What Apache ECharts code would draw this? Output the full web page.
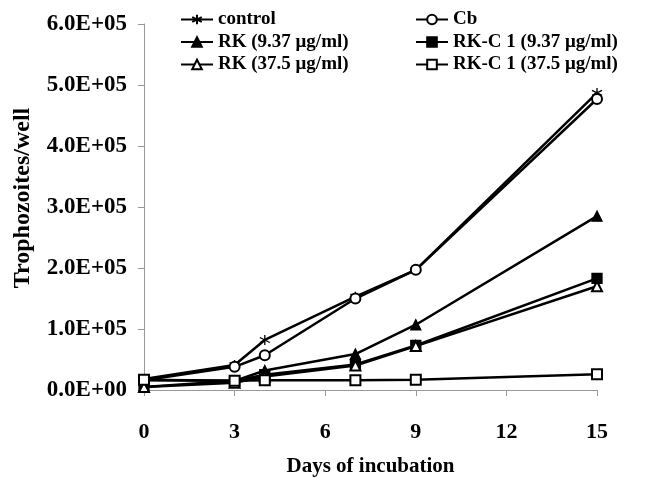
<!DOCTYPE html>
<html>
<head>
<meta charset="utf-8">
<script src="https://cdn.jsdelivr.net/npm/echarts@6/dist/echarts.min.js"></script>
<style>
  html, body { margin: 0; padding: 0; background: #fff; }
  #main { width: 654px; height: 478px; }
</style>
</head>
<body>
<div id="main"></div>
<script>
  // 培养天数
  var days = [0, 3, 4, 7, 9, 15];
  // 各组数据 (trophozoites/well)
  var control = [18000, 41000, 82000, 153000, 197000, 487000];
  var cb = [16000, 38000, 57000, 150000, 197000, 477000];
  var rk937 = [16000, 15000, 32000, 59000, 107000, 285000];
  var rkc937 = [5000, 15000, 25000, 42000, 73000, 183000];
  var rk375 = [5000, 12000, 22000, 40000, 72000, 170000];
  var rkc375 = [17000, 15000, 16000, 16000, 17000, 26000];
  var xTicks = [0, 3, 6, 9, 12, 15];

  var font = '"Liberation Serif", "Times New Roman", serif';
  var asterisk = 'path://M0,-10L0,10M-8.7,-5L8.7,5M-8.7,5L8.7,-5';

  function pairs(arr) {
    return days.map(function (d, i) { return [d, arr[i]]; });
  }

  function mk(name, arr, symbol) {
    return {
      name: name,
      type: 'line',
      data: pairs(arr),
      symbol: symbol,
      symbolSize: 10,
      showAllSymbol: true,
      lineStyle: { color: '#000', width: 2.5 },
      itemStyle: { color: '#000', borderColor: '#000', borderWidth: 1.3 },
      emphasis: { disabled: true },
      animation: false
    };
  }

  var legendText = { fontFamily: font, fontWeight: 'bold', fontSize: 19, color: '#000' };

  var myChart = echarts.init(document.getElementById('main'));
  var option = {
    backgroundColor: '#fff',
    grid: { left: 144, right: 57, top: 24, bottom: 88, containLabel: false, outerBoundsMode: 'none' },
    legend: [{
      orient: 'vertical',
      left: 175,
      top: 5,
      itemGap: 3.5,
      itemWidth: 32,
      itemHeight: 12,
      textStyle: legendText,
      data: ['control', 'RK (9.37 μg/ml)', 'RK (37.5 μg/ml)']
    }, {
      orient: 'vertical',
      left: 410,
      top: 5,
      itemGap: 3.5,
      itemWidth: 32,
      itemHeight: 12,
      textStyle: legendText,
      data: ['Cb', 'RK-C 1 (9.37 μg/ml)', 'RK-C 1 (37.5 μg/ml)']
    }],
    xAxis: {
      type: 'value',
      min: 0,
      max: 15,
      interval: 3,
      name: 'Days of incubation',
      nameLocation: 'middle',
      nameGap: 66,
      nameTextStyle: { fontFamily: font, fontWeight: 'bold', fontSize: 21, color: '#000' },
      axisLine: { lineStyle: { color: '#999', width: 1 } },
      axisTick: { show: true, length: 6, lineStyle: { color: '#999' } },
      splitLine: { show: false },
      axisLabel: {
        margin: 31,
        fontFamily: font, fontWeight: 'bold', fontSize: 22, color: '#000',
        customValues: xTicks
      }
    },
    yAxis: {
      type: 'value',
      min: 0,
      max: 600000,
      interval: 100000,
      name: 'Trophozoites/well',
      nameLocation: 'middle',
      nameGap: 109,
      nameTextStyle: { fontFamily: font, fontWeight: 'bold', fontSize: 24, color: '#000', padding: [0, 0, 0, 18] },
      axisLine: { show: true, lineStyle: { color: '#999', width: 1 } },
      axisTick: { show: true, length: 6, lineStyle: { color: '#999' } },
      splitLine: { show: false },
      axisLabel: {
        margin: 17,
        fontFamily: font, fontWeight: 'bold', fontSize: 23, color: '#000',
        formatter: function (v) {
          if (v === 0) return '0.0E+00';
          var e = Math.floor(Math.log10(v));
          var m = v / Math.pow(10, e);
          return m.toFixed(1) + 'E+' + (e < 10 ? '0' + e : e);
        }
      }
    },
    series: [
      mk('control', control, asterisk),
      mk('Cb', cb, 'emptyCircle'),
      mk('RK (9.37 μg/ml)', rk937, 'triangle'),
      mk('RK-C 1 (9.37 μg/ml)', rkc937, 'rect'),
      mk('RK (37.5 μg/ml)', rk375, 'emptyTriangle'),
      mk('RK-C 1 (37.5 μg/ml)', rkc375, 'emptyRect')
    ]
  };
  myChart.setOption(option);
</script>
</body>
</html>
